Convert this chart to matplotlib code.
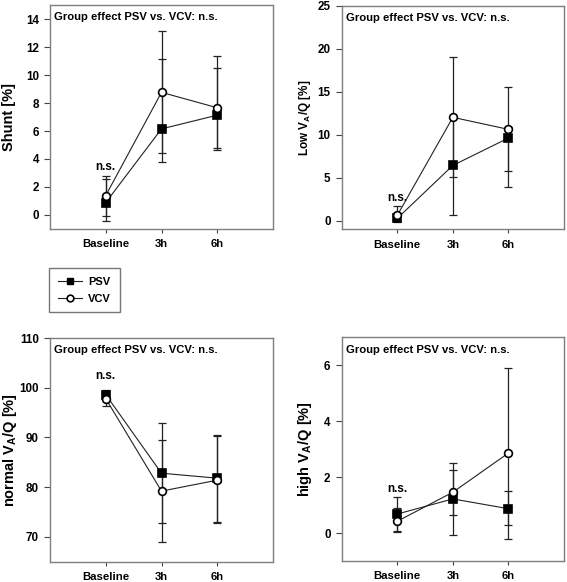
import matplotlib
matplotlib.use("Agg")
import matplotlib.pyplot as plt
import numpy as np
from matplotlib.lines import Line2D

plt.rcParams['font.family'] = ['Liberation Sans', 'DejaVu Sans']
plt.rcParams['font.weight'] = 'bold'
plt.rcParams['mathtext.fontset'] = 'custom'
plt.rcParams['mathtext.rm'] = 'Liberation Sans:bold'
plt.rcParams['mathtext.bf'] = 'Liberation Sans:bold'
plt.rcParams['mathtext.it'] = 'Liberation Sans:bold'

timepoints = ['Baseline', '3h', '6h']
groups = ['PSV', 'VCV']

# Shunt [%]
shunt_psv = [0.89, 6.15, 7.13]
shunt_psv_lo = [-0.43, 3.76, 4.64]
shunt_psv_hi = [2.58, 11.17, 10.48]
shunt_vcv = [1.39, 8.76, 7.66]
shunt_vcv_lo = [-0.07, 4.40, 4.76]
shunt_vcv_hi = [2.82, 13.11, 11.36]

# Low VA/Q [%]
low_psv = [0.27, 6.43, 9.61]
low_psv_lo = [-0.2, 0.66, 3.88]
low_psv_hi = [0.9, 12.2, 10.9]
low_vcv = [0.62, 12.02, 10.62]
low_vcv_lo = [0.1, 5.1, 5.78]
low_vcv_hi = [1.7, 19.0, 15.5]

# normal VA/Q [%]
normal_psv = [98.6, 82.8, 81.8]
normal_psv_lo = [97.6, 72.7, 72.9]
normal_psv_hi = [99.6, 92.9, 90.5]
normal_vcv = [97.8, 79.2, 81.4]
normal_vcv_lo = [96.3, 68.9, 72.7]
normal_vcv_hi = [99.3, 89.5, 90.3]

# high VA/Q [%]
high_psv = [0.68, 1.22, 0.87]
high_psv_lo = [0.08, -0.07, -0.20]
high_psv_hi = [1.29, 2.51, 1.49]
high_vcv = [0.42, 1.46, 2.86]
high_vcv_lo = [0.05, 0.63, 0.27]
high_vcv_hi = [0.9, 2.24, 5.91]

ns_y = [3.45, 2.6, 102.3, 1.56]
group_text = 'Group effect PSV vs. VCV: n.s.'

W, H = 567, 582
fig = plt.figure(figsize=(W / 100, H / 100), dpi=100)

panels = [
    dict(rect=[50 / W, 1 - 229 / H, 223 / W, 224 / H], ylabel='Shunt [%]', ylfs=10.5,
         ylim=(-1, 15), yticks=[0, 2, 4, 6, 8, 10, 12, 14],
         psv=(shunt_psv, shunt_psv_lo, shunt_psv_hi), vcv=(shunt_vcv, shunt_vcv_lo, shunt_vcv_hi)),
    dict(rect=[341.7 / W, 1 - 229.3 / H, 222.3 / W, 223.6 / H], ylabel=r'Low V$_\mathrm{A}$/Q [%]', ylfs=8.5,
         ylim=(-1, 25), yticks=[0, 5, 10, 15, 20, 25],
         psv=(low_psv, low_psv_lo, low_psv_hi), vcv=(low_vcv, low_vcv_lo, low_vcv_hi)),
    dict(rect=[50 / W, 1 - 561.7 / H, 223 / W, 223.7 / H], ylabel=r'normal V$_\mathrm{A}$/Q [%]', ylfs=10.5,
         ylim=(65, 110), yticks=[70, 80, 90, 100, 110],
         psv=(normal_psv, normal_psv_lo, normal_psv_hi), vcv=(normal_vcv, normal_vcv_lo, normal_vcv_hi)),
    dict(rect=[341.7 / W, 1 - 561 / H, 222.3 / W, 223.7 / H], ylabel=r'high V$_\mathrm{A}$/Q [%]', ylfs=10.5,
         ylim=(-1, 7), yticks=[0, 2, 4, 6],
         psv=(high_psv, high_psv_lo, high_psv_hi), vcv=(high_vcv, high_vcv_lo, high_vcv_hi)),
]

xpos = np.arange(1, len(timepoints) + 1)
ylabel_x = [9 / W, 305 / W, 10 / W, 305 / W]

for i, p in enumerate(panels):
    ax = fig.add_axes(p['rect'])
    for key in ['vcv', 'psv']:
        vals, lo, hi = p[key]
        vals = np.array(vals)
        yerr = np.vstack([vals - np.array(lo), np.array(hi) - vals])
        ax.errorbar(xpos, vals, yerr=yerr, fmt='none', ecolor='#222222', elinewidth=0.9,
                    capsize=3.0, capthick=0.9, zorder=2)
    for key, marker, fc, ms, z in [('psv', 's', 'black', 5.2, 4), ('vcv', 'o', 'white', 5.6, 5)]:
        vals = p[key][0]
        ax.plot(xpos, vals, color='#222222', lw=0.8, marker=marker, markersize=ms,
                markerfacecolor=fc, markeredgecolor='black', markeredgewidth=1.2, zorder=z)
    ax.set_xlim(0, 4)
    ax.set_ylim(*p['ylim'])
    ax.set_yticks(p['yticks'])
    ax.set_xticks(xpos)
    ax.set_xticklabels(timepoints, fontsize=8.2, fontweight='bold')
    ax.tick_params(axis='y', direction='out', length=4, width=0.8, pad=4, labelsize=8.4, color='#444444')
    ax.tick_params(axis='x', direction='out', length=3, width=0.8, pad=4.5, color='#444444')
    for lab in ax.get_yticklabels():
        lab.set_fontweight('bold')
    for s in ax.spines.values():
        s.set_color('#7f7f7f')
        s.set_linewidth(1.0)
    ax.text(0.02, 0.945, group_text, transform=ax.transAxes, fontsize=8.1, fontweight='bold',
            ha='left', va='center')
    ax.text(xpos[0], ns_y[i], 'n.s.', fontsize=8.5, fontweight='bold', ha='center', va='center')
    fig.text(ylabel_x[i], p['rect'][1] + p['rect'][3] / 2, p['ylabel'], rotation=90,
             fontsize=p['ylfs'], fontweight='bold', ha='center', va='center')

handles = [
    Line2D([], [], color='#222222', lw=0.8, marker='s', markersize=4.5, markerfacecolor='black',
           markeredgecolor='black'),
    Line2D([], [], color='#222222', lw=0.8, marker='o', markersize=4.8, markerfacecolor='white',
           markeredgecolor='black', markeredgewidth=1.2),
]
leg = fig.legend(handles, groups, loc='upper left', bbox_to_anchor=(49 / W, 1 - 268 / H),
                 bbox_transform=fig.transFigure, frameon=True, fancybox=False,
                 prop={'weight': 'bold', 'size': 8}, handlelength=2.2, borderpad=0.8,
                 labelspacing=0.6, handletextpad=0.5, borderaxespad=0)
leg.get_frame().set_edgecolor('#555555')
leg.get_frame().set_linewidth(1.0)

fig.savefig('out.png', dpi=100)
